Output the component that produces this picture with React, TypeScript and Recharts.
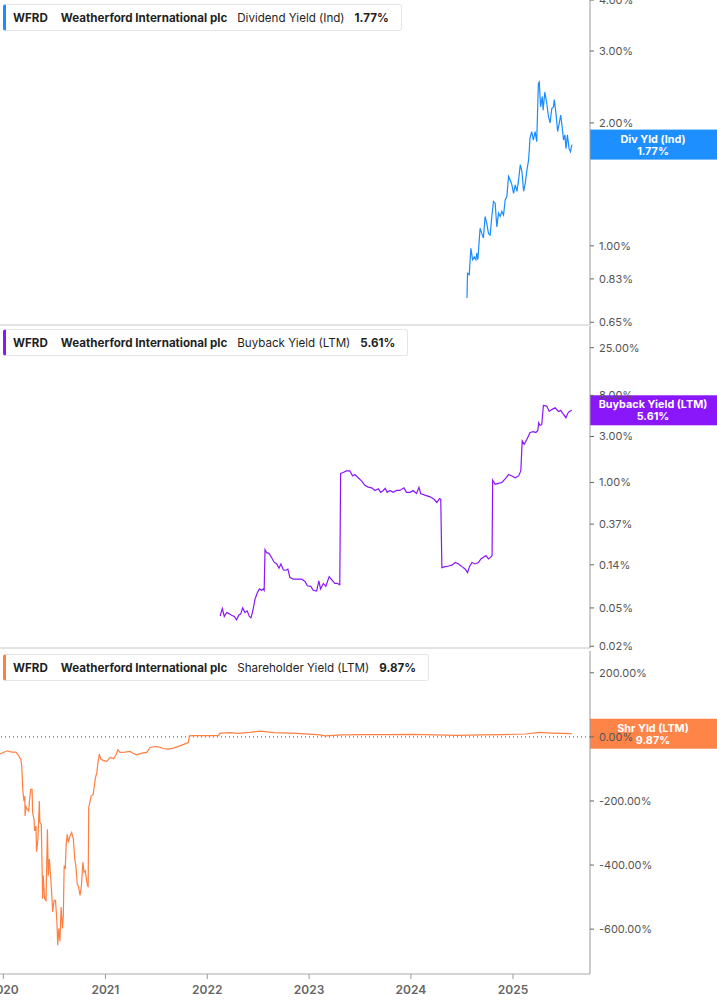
import React from 'react';
import { LineChart, Line, XAxis, YAxis, ReferenceLine } from 'recharts';

// WFRD yield history, values in percent
const TICKER = 'WFRD';
const COMPANY = 'Weatherford International plc';

const divDates = [
  '2024-07-20', '2024-07-22', '2024-07-28',
  '2024-08-03', '2024-08-09', '2024-08-15', '2024-08-21', '2024-08-24', '2024-08-28',
  '2024-09-05', '2024-09-11', '2024-09-17', '2024-09-23', '2024-09-29',
  '2024-10-05', '2024-10-11', '2024-10-17', '2024-10-23', '2024-10-29',
  '2024-11-04', '2024-11-10', '2024-11-16', '2024-11-22', '2024-11-28',
  '2024-12-04', '2024-12-10', '2024-12-16', '2024-12-22', '2024-12-28',
  '2025-01-03', '2025-01-09', '2025-01-15', '2025-01-21', '2025-01-27',
  '2025-02-02', '2025-02-08', '2025-02-14', '2025-02-20', '2025-02-26',
  '2025-03-03', '2025-03-09', '2025-03-15', '2025-03-21', '2025-03-27',
  '2025-04-02', '2025-04-05', '2025-04-10', '2025-04-16', '2025-04-19', '2025-04-25',
  '2025-05-02', '2025-05-08', '2025-05-14', '2025-05-20', '2025-05-26', '2025-05-29',
  '2025-06-04', '2025-06-10', '2025-06-16', '2025-06-21', '2025-06-26',
  '2025-07-01', '2025-07-06', '2025-07-10', '2025-07-15', '2025-07-21', '2025-07-26', '2025-07-31',
];
const divYield = [
  0.745, 0.857, 0.85,
  0.986, 0.925, 0.94, 0.925, 0.96, 0.925,
  1.104, 1.073, 1.045, 1.18, 1.135,
  1.073, 1.062, 1.18, 1.284, 1.272,
  1.113, 1.203, 1.18, 1.214, 1.19,
  1.296, 1.32, 1.48, 1.45, 1.41,
  1.345, 1.41, 1.36, 1.45, 1.58,
  1.52, 1.36, 1.425, 1.535, 1.625,
  1.835, 1.905, 1.816, 1.905, 1.8,
  2.5, 2.52, 2.19, 2.32, 2.15, 2.38,
  2.235, 2.074, 2.0, 2.17, 2.19, 2.28,
  2.11, 1.905, 2.0, 2.09, 1.96,
  1.816, 1.87, 1.73, 1.87, 1.73, 1.7, 1.77,
];

const buybackDates = [
  '2022-02-16', '2022-02-24', '2022-03-03', '2022-03-12', '2022-03-21', '2022-03-29',
  '2022-04-08', '2022-04-16', '2022-04-24', '2022-05-01', '2022-05-08', '2022-05-16', '2022-05-24',
  '2022-06-01', '2022-06-07', '2022-06-15', '2022-06-21', '2022-06-29',
  '2022-07-07', '2022-07-15', '2022-07-21', '2022-07-24', '2022-07-27',
  '2022-08-02', '2022-08-10', '2022-08-20', '2022-08-28',
  '2022-09-07', '2022-09-15', '2022-09-22', '2022-10-01', '2022-10-10', '2022-10-17', '2022-10-24',
  '2022-11-05', '2022-11-17', '2022-12-06', '2022-12-18', '2022-12-26',
  '2023-01-07', '2023-01-16', '2023-01-28', '2023-02-05', '2023-02-11', '2023-02-21',
  '2023-03-02', '2023-03-14', '2023-03-24', '2023-04-03', '2023-04-12', '2023-04-21', '2023-04-24',
  '2023-05-03', '2023-05-15', '2023-05-27', '2023-06-06', '2023-06-14', '2023-06-26',
  '2023-07-08', '2023-07-20', '2023-08-01', '2023-08-13', '2023-08-25',
  '2023-09-06', '2023-09-15', '2023-09-24', '2023-10-01', '2023-10-08', '2023-10-18', '2023-10-29',
  '2023-11-11', '2023-11-22', '2023-12-07', '2023-12-16', '2023-12-29',
  '2024-01-09', '2024-01-21', '2024-01-30', '2024-02-05', '2024-02-20', '2024-03-10', '2024-03-24',
  '2024-04-03', '2024-04-12', '2024-04-17', '2024-04-21',
  '2024-05-03', '2024-05-15', '2024-05-27', '2024-06-08', '2024-06-20',
  '2024-07-02', '2024-07-14', '2024-07-22', '2024-07-29', '2024-08-07', '2024-08-19', '2024-08-30',
  '2024-09-08', '2024-09-17', '2024-09-26', '2024-10-05', '2024-10-13', '2024-10-18', '2024-10-20',
  '2024-10-29', '2024-11-10', '2024-11-22', '2024-12-04', '2024-12-16', '2024-12-28',
  '2025-01-09', '2025-01-21', '2025-01-29', '2025-02-03', '2025-02-10', '2025-02-20',
  '2025-03-03', '2025-03-15', '2025-03-24', '2025-03-31', '2025-04-03', '2025-04-08', '2025-04-14', '2025-04-20',
  '2025-05-02', '2025-05-11', '2025-05-20', '2025-06-01', '2025-06-13', '2025-06-21',
  '2025-07-01', '2025-07-10', '2025-07-16', '2025-07-22', '2025-07-31',
];
const buybackYield = [
  0.0411, 0.0493, 0.0408, 0.0448, 0.0434, 0.042,
  0.0408, 0.0376, 0.042, 0.0434, 0.05, 0.0448, 0.0466,
  0.0408, 0.0395, 0.0493, 0.0613, 0.0713,
  0.0787, 0.0762, 0.0787, 0.0762, 0.2005,
  0.187, 0.184, 0.166, 0.15,
  0.143, 0.129, 0.143, 0.124, 0.123, 0.126, 0.104,
  0.0993, 0.0993, 0.0993, 0.0937, 0.0849,
  0.0838, 0.0762, 0.0749, 0.0954, 0.0787, 0.0897,
  0.0838, 0.1055, 0.0972, 0.0897, 0.0897, 0.087, 1.241,
  1.27, 1.32, 1.32, 1.17, 1.21, 1.12,
  1.04, 0.933, 0.896, 0.88, 0.827,
  0.86, 0.79, 0.827, 0.87, 0.79, 0.827, 0.79,
  0.827, 0.827, 0.88, 0.79, 0.79,
  0.827, 0.77, 0.89, 0.77, 0.74, 0.71, 0.67,
  0.62, 0.68, 0.67, 0.131,
  0.134, 0.136, 0.139, 0.148, 0.143,
  0.134, 0.126, 0.116, 0.134, 0.148, 0.143, 0.148,
  0.161, 0.168, 0.175, 0.161, 0.168, 0.175, 1.06,
  0.96, 0.98, 1.0, 1.09, 1.21, 1.17,
  1.12, 1.17, 1.32, 2.7, 2.49, 2.81,
  3.3, 3.37, 3.3, 3.47, 4.16, 3.9, 4.0, 6.3,
  6.2, 5.46, 5.7, 5.96, 5.46, 5.6,
  5.1, 4.7, 5.2, 5.46, 5.61,
];

const shrDates = [
  '2019-12-20', '2020-01-01', '2020-01-15', '2020-01-31', '2020-02-15', '2020-02-23',
  '2020-03-04', '2020-03-07', '2020-03-11', '2020-03-15', '2020-03-18', '2020-03-19', '2020-03-22', '2020-03-27',
  '2020-04-01', '2020-04-03', '2020-04-08', '2020-04-13', '2020-04-15', '2020-04-20', '2020-04-22', '2020-04-27', '2020-04-29',
  '2020-05-04', '2020-05-09', '2020-05-11', '2020-05-16', '2020-05-21', '2020-05-23', '2020-05-28',
  '2020-06-02', '2020-06-07', '2020-06-10', '2020-06-14', '2020-06-19', '2020-06-22', '2020-06-26',
  '2020-07-01', '2020-07-06', '2020-07-11', '2020-07-14', '2020-07-18', '2020-07-22', '2020-07-26', '2020-07-31',
  '2020-08-03', '2020-08-06', '2020-08-10', '2020-08-13', '2020-08-17', '2020-08-21', '2020-08-27',
  '2020-09-02', '2020-09-08', '2020-09-13', '2020-09-17', '2020-09-22', '2020-09-27',
  '2020-10-02', '2020-10-07', '2020-10-12', '2020-10-16', '2020-10-21', '2020-10-26', '2020-10-31',
  '2020-11-02', '2020-11-07', '2020-11-11', '2020-11-18', '2020-11-26',
  '2020-12-01', '2020-12-05', '2020-12-10', '2020-12-15', '2020-12-24',
  '2021-01-06', '2021-01-18', '2021-01-30', '2021-02-08', '2021-02-15', '2021-02-22',
  '2021-03-12', '2021-03-30', '2021-04-08', '2021-04-23', '2021-05-11', '2021-05-29',
  '2021-06-10', '2021-06-27', '2021-07-15', '2021-07-27', '2021-08-14', '2021-09-02',
  '2021-09-25', '2021-10-13', '2021-10-25', '2021-10-29', '2021-11-12', '2021-12-30',
  '2022-02-10', '2022-02-16', '2022-02-22', '2022-03-23', '2022-04-21', '2022-06-01',
  '2022-07-12', '2022-08-28', '2022-11-18', '2023-02-10', '2023-02-26', '2023-05-02',
  '2023-07-22', '2023-10-15', '2024-01-03', '2024-06-15', '2024-09-15', '2024-11-27',
  '2025-02-15', '2025-04-05', '2025-05-20', '2025-07-31',
];
const shrYield = [
  -53.7, -48.6, -43.4, -47.5, -47.5, -55.8,
  -71.3, -92, -169.5, -200.5, -185, -247, -218, -226,
  -231.5, -205.5, -164, -164, -236.5, -257, -293.5, -278, -358.5,
  -319, -200.5, -267.5, -273, -505, -433, -505,
  -510.5, -288, -433, -381, -443, -484.5, -546.5,
  -510.5, -510.5, -577.5, -650, -598, -638, -531, -598,
  -557, -402, -412, -340, -304, -329.5, -309,
  -298.5, -319, -381, -402, -459, -469,
  -495, -464, -391.5, -422.5, -418, -453.5, -469,
  -221, -200.5, -185, -180, -128,
  -112.5, -81.5, -53.7, -69, -73.5,
  -76.5, -64, -68, -55.8, -40.3, -48.6,
  -47.5, -45.5, -50.5, -55.8, -50.5, -48.6,
  -33, -30, -32, -36.3, -38, -35,
  -28, -21.7, -17.7, 3, 4, 4,
  4, 11.5, 12, 13, 11, 14,
  18, 13, 11, 6, 3, 6,
  7, 7, 8, 5, 6, 7,
  9, 14, 12, 9.87,
];

const divTicks = [0.65, 0.83, 1, 2, 3, 4];
const buybackTicks = [0.02, 0.05, 0.14, 0.37, 1, 3, 8, 25];
const shrTicks = [-600, -400, -200, 0, 200];
const yearTicks = ['2020-01-01', '2021-01-01', '2022-01-01', '2023-01-01', '2024-01-01', '2025-01-01'];

const FONT = 'Inter, "Noto Sans", sans-serif';
const BLUE = '#1a8cff';
const PURPLE = '#8a16fa';
const ORANGE = '#ff7f40';

const toTime = (d: string) => Date.parse(d + 'T00:00:00Z');
const X_DOMAIN = [toTime('2019-12-20'), toTime('2025-10-04')];
const pct = (v: number) => `${v.toFixed(2)}%`;
const series = (dates: string[], vals: number[]) => dates.map((d, i) => ({ t: toTime(d), v: vals[i] }));

const divData = series(divDates, divYield);
const buybackData = series(buybackDates, buybackYield);
const shrData = series(shrDates, shrYield);
const last = (arr: number[]) => arr[arr.length - 1];

const yTick = { fontSize: 11, fill: '#555', fontFamily: FONT };

function ValueTag(props: any) {
  const { viewBox, tagColor, tagTitle, tagText } = props;
  if (!viewBox) return null;
  const x = viewBox.x + viewBox.width;
  const y = viewBox.y;
  return (
    <g>
      <rect x={x} y={y - 15} width={127} height={30} fill={tagColor} />
      <text x={x + 63} y={y - 2} textAnchor="middle" fill="#fff" fontSize={10.8} fontWeight={700} fontFamily={FONT}>
        {tagTitle}
      </text>
      <text x={x + 63} y={y + 10} textAnchor="middle" fill="#fff" fontSize={10.8} fontWeight={700} fontFamily={FONT}>
        {tagText}
      </text>
    </g>
  );
}

function LegendBox({ color, metric, value, top }: { color: string; metric: string; value: number; top: number }) {
  return (
    <div
      style={{
        position: 'absolute', left: 3, top, height: 27, boxSizing: 'border-box',
        border: '1px solid #e6e6e6', borderLeft: `3px solid ${color}`, borderRadius: 3,
        background: '#fff', display: 'flex', alignItems: 'center', paddingLeft: 7, paddingRight: 12,
        fontFamily: FONT, fontSize: 11.6, color: '#1f1f1f', whiteSpace: 'nowrap',
      }}
    >
      <span style={{ fontWeight: 700 }}>{TICKER}</span>
      <span style={{ fontWeight: 700, marginLeft: 13 }}>{COMPANY}</span>
      <span style={{ marginLeft: 10 }}>{metric}</span>
      <span style={{ fontWeight: 700, marginLeft: 10 }}>{pct(value)}</span>
    </div>
  );
}

export default function App() {
  return (
    <div style={{ position: 'absolute', left: 0, top: 0, width: 717, height: 1005, background: '#fff', overflow: 'hidden' }}>
      <div style={{ position: 'absolute', left: 0, top: 0 }}>
        <LineChart width={717} height={340} data={divData} margin={{ top: 0, right: 0, bottom: 14, left: 0 }}>
          <XAxis type="number" dataKey="t" domain={X_DOMAIN} allowDataOverflow tick={false} tickLine={false} height={1} axisLine={{ stroke: '#c8c8c8' }} />
          <YAxis
            orientation="right" width={127} scale="log" domain={[0.64, 4]} allowDataOverflow
            ticks={divTicks} interval={0} tickFormatter={pct} tick={yTick}
            tickSize={4} tickMargin={5} tickLine={{ stroke: '#666' }} axisLine={{ stroke: '#999' }}
          />
          <Line dataKey="v" stroke={BLUE} strokeWidth={1.2} dot={false} activeDot={false} isAnimationActive={false} />
          <ReferenceLine y={last(divYield)} stroke="none" label={<ValueTag tagColor="#1e8fff" tagTitle="Div Yld (Ind)" tagText={pct(last(divYield))} />} />
        </LineChart>
      </div>

      <div style={{ position: 'absolute', left: 0, top: 314 }}>
        <LineChart width={717} height={350} data={buybackData} margin={{ top: 12, right: 0, bottom: 15, left: 0 }}>
          <XAxis type="number" dataKey="t" domain={X_DOMAIN} allowDataOverflow tick={false} tickLine={false} height={1} axisLine={{ stroke: '#c8c8c8' }} />
          <YAxis
            orientation="right" width={127} scale="log" domain={[0.0192, 42]} allowDataOverflow
            ticks={buybackTicks} interval={0} tickFormatter={pct} tick={yTick}
            tickSize={4} tickMargin={5} tickLine={{ stroke: '#666' }} axisLine={{ stroke: '#999' }}
          />
          <Line dataKey="v" stroke={PURPLE} strokeWidth={1.2} dot={false} activeDot={false} isAnimationActive={false} />
          <ReferenceLine y={last(buybackYield)} stroke="none" label={<ValueTag tagColor={PURPLE} tagTitle="Buyback Yield (LTM)" tagText={pct(last(buybackYield))} />} />
        </LineChart>
      </div>

      <div style={{ position: 'absolute', left: 0, top: 640 }}>
        <LineChart width={717} height={365} data={shrData} margin={{ top: 11, right: 0, bottom: 0, left: 0 }}>
          <XAxis
            type="number" dataKey="t" domain={X_DOMAIN} allowDataOverflow
            ticks={yearTicks.map(toTime)} interval={0}
            tickFormatter={(t: number) => String(new Date(t).getUTCFullYear())}
            tick={{ fontSize: 12, fill: '#666', fontWeight: 600, fontFamily: FONT }}
            tickSize={5} tickMargin={6} height={31}
            tickLine={{ stroke: '#999' }} axisLine={{ stroke: '#aaa' }}
          />
          <YAxis
            orientation="right" width={127} domain={[-740, 268]} allowDataOverflow
            ticks={shrTicks} interval={0} tickFormatter={pct} tick={yTick}
            tickSize={4} tickMargin={5} tickLine={{ stroke: '#666' }} axisLine={{ stroke: '#999' }}
          />
          <ReferenceLine y={0} stroke="#444" strokeDasharray="1 3" />
          <Line dataKey="v" stroke={ORANGE} strokeWidth={1.2} dot={false} activeDot={false} isAnimationActive={false} />
          <ReferenceLine y={last(shrYield)} stroke="none" label={<ValueTag tagColor="#ff8448" tagTitle="Shr Yld (LTM)" tagText={pct(last(shrYield))} />} />
        </LineChart>
      </div>

      <LegendBox color={BLUE} metric="Dividend Yield (Ind)" value={last(divYield)} top={4} />
      <LegendBox color={PURPLE} metric="Buyback Yield (LTM)" value={last(buybackYield)} top={329} />
      <LegendBox color={ORANGE} metric="Shareholder Yield (LTM)" value={last(shrYield)} top={654} />
    </div>
  );
}
